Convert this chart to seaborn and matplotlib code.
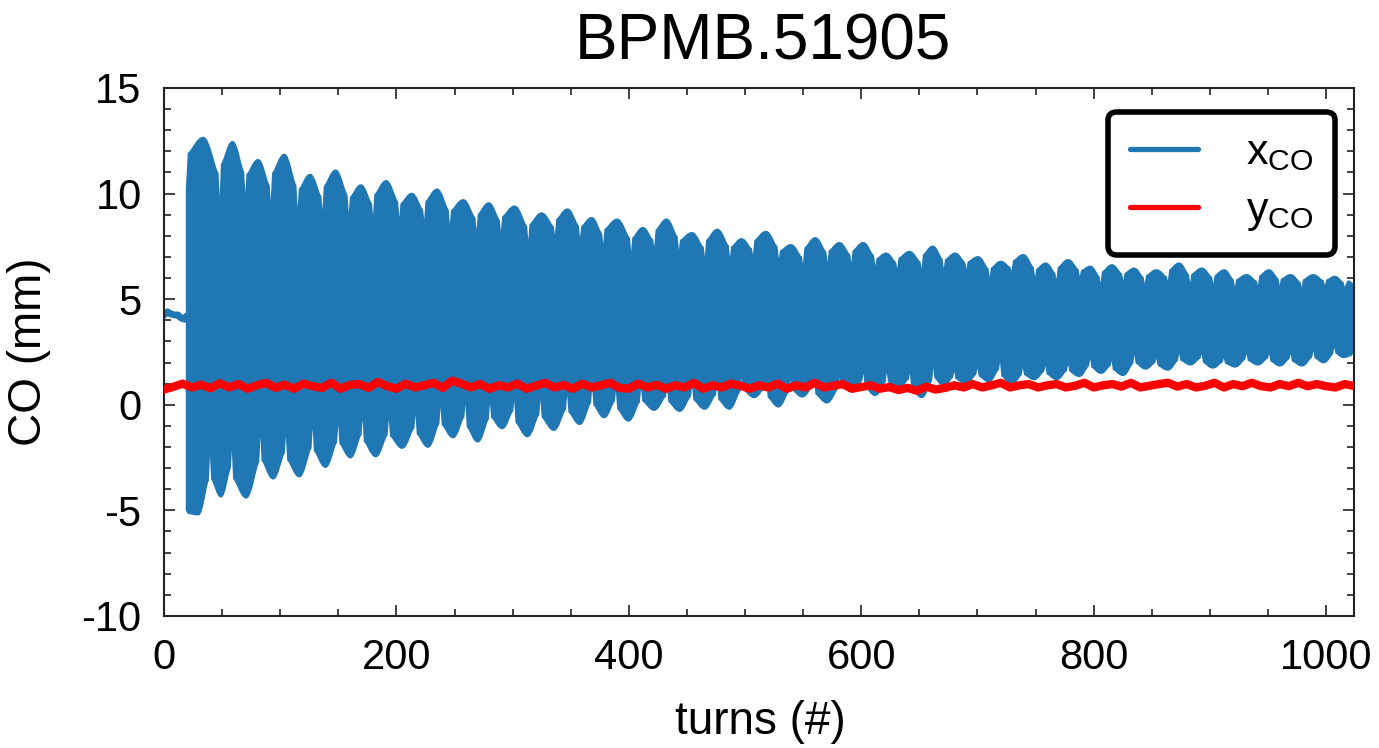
import numpy as np
import matplotlib
matplotlib.use("Agg")
import matplotlib.pyplot as plt
import seaborn as sns
from matplotlib.path import Path
from matplotlib.patches import PathPatch
from matplotlib.lines import Line2D
from matplotlib.ticker import MultipleLocator

# ---------------- data ----------------
title = "BPMB.51905"
x_label = "turns (#)"
y_label = "CO (mm)"
series_labels = [r"$\mathregular{x_{CO}}$", r"$\mathregular{y_{CO}}$"]
x_ticks = [0, 200, 400, 600, 800, 1000]
y_ticks = [-10, -5, 0, 5, 10, 15]

# x_CO before the kick (turn, mm)
pre_turn = [0, 3, 6, 9, 12, 15, 18, 19.5]
pre_x = [4.25, 4.4, 4.3, 4.25, 4.25, 4.1, 4.05, 4.2]

# x_CO upper envelope: narrow dips (turn, mm) and hump maxima between them
upper_dip_turn = [19.5, 48, 70, 92, 115, 136.5, 159, 180, 202.5, 224, 246, 269, 290,
                  313.5, 336.5, 358, 378, 402, 422, 443, 465.5, 487, 507, 529, 550,
                  571, 591.5, 612, 631, 652, 671, 690.5, 710.5, 729.5, 749.5, 768, 788,
                  806, 825.5, 844, 864, 883, 903, 921.5, 941.5, 960, 979, 999, 1016, 1023]
upper_dip_x = [10.2, 8.9, 9.3, 8.9, 8.6, 8.6, 8.5, 8.45, 8.4, 8.3, 8.05, 7.8, 7.75,
               7.3, 7.65, 7.5, 7.2, 6.8, 7.1, 6.95, 6.6, 6.6, 6.8, 6.6, 6.3,
               6.4, 6.4, 6.3, 6.2, 6.15, 6.15, 6.2, 5.75, 6.15, 5.75, 5.65, 5.85,
               5.5, 5.65, 5.5, 5.65, 5.5, 5.5, 5.35, 5.45, 5.45, 5.35, 5.5, 5.45, 5.7]
upper_peak_x = [12.65, 12.45, 11.6, 11.85, 10.9, 11.1, 10.4, 10.6, 10.0, 10.2,
                9.7, 9.55, 9.4, 9.07, 9.26, 8.85, 8.78, 8.38, 8.78, 8.14,
                8.3, 7.85, 8.2, 7.57, 7.9, 7.67, 7.67, 7.17, 7.25, 7.5,
                7.17, 7.0, 6.78, 7.1, 6.7, 6.86, 6.55, 6.62, 6.46, 6.38,
                6.7, 6.46, 6.38, 6.15, 6.38, 6.15, 6.15, 6.07, 5.85]

# x_CO lower envelope: narrow spikes (turn, mm) and trough minima between them
lower_spike_turn = [19.5, 39.6, 58.5, 83, 105, 128, 150, 171, 193.5, 216.5,
                    238, 259.5, 280.5, 301.5, 324, 347, 368.5, 389, 410.5, 433,
                    454.5, 476, 497, 518.5, 539, 559.5, 581.5, 602, 622, 642,
                    662, 680, 700, 719.5, 739, 758.5, 778, 797, 815.5, 835,
                    854, 873.5, 893, 912, 931.5, 951, 969.5, 989, 1007, 1023]
lower_spike_x = [-5.0, -1.6, -1.4, -0.65, -0.8, -0.4, -0.33, -0.09, -0.16, 0.07,
                 0.45, 0.6, 0.6, 0.7, 0.8, 1.0, 1.33, 1.1, 1.2, 1.2,
                 1.25, 1.3, 1.65, 1.4, 1.5, 1.45, 1.6, 1.8, 1.85, 1.8,
                 2.1, 1.8, 1.97, 2.36, 1.97, 2.05, 2.13, 2.44, 2.28, 2.63,
                 2.36, 2.63, 2.6, 2.36, 2.6, 2.6, 2.6, 2.75, 2.9, 2.45]
lower_trough_x = [-5.2, -4.35, -4.4, -3.5, -3.4, -2.95, -2.5, -2.45, -2.05, -2.0,
                  -1.55, -1.75, -1.12, -1.5, -1.2, -0.92, -0.6, -0.76, -0.25, -0.3,
                  -0.2, -0.2, 0.35, -0.09, 0.38, 0.1, 0.62, 0.45, 0.75, 0.35,
                  0.9, 1.0, 1.1, 0.95, 1.2, 1.2, 1.35, 1.5, 1.4, 1.7,
                  1.65, 1.9, 1.75, 1.8, 1.9, 1.85, 1.85, 2.0, 2.25]

# y_CO (sampled every 8 turns)
y_turn = list(range(0, 1024, 8)) + [1023]
y_co = [0.72, 0.85, 1.0, 0.82, 0.95, 0.78, 1.02, 0.82, 0.98, 0.76, 0.92, 1.04, 0.8, 0.95, 0.76, 1.0,
        0.88, 0.8, 1.04, 0.76, 0.94, 0.98, 0.8, 1.08, 0.88, 0.76, 1.0, 0.82, 0.92, 1.04, 0.8, 1.14,
        1.0, 0.82, 0.98, 0.76, 0.92, 0.82, 1.0, 0.76, 0.9, 1.04, 0.82, 0.94, 0.76, 1.0, 0.82, 0.92,
        1.04, 0.8, 0.76, 1.0, 0.82, 0.94, 0.76, 0.92, 0.82, 1.04, 0.76, 0.92, 0.82, 1.0, 0.9, 0.76,
        0.92, 0.82, 1.0, 0.76, 0.92, 0.82, 1.04, 0.82, 0.9, 0.98, 0.76, 0.84, 0.92, 0.76, 0.84, 0.7,
        0.8, 0.66, 0.86, 0.72, 0.8, 0.92, 0.82, 0.98, 0.82, 0.92, 1.04, 0.82, 0.92, 0.98, 0.82, 0.92,
        0.98, 0.82, 0.9, 1.04, 0.82, 0.92, 0.98, 0.86, 1.04, 0.82, 0.9, 0.98, 1.04, 0.86, 0.98, 0.82,
        0.9, 1.04, 0.82, 0.98, 0.88, 1.04, 0.88, 0.82, 0.98, 0.88, 1.04, 0.88, 0.98, 0.88, 0.82, 0.98,
        0.9]

BLUE = "#1f77b4"
RED = "#ff0000"

# ---------------- style ----------------
sns.set_theme(style="ticks")
plt.rcParams["font.family"] = ["Liberation Sans", "DejaVu Sans"]
plt.rcParams["mathtext.fontset"] = "custom"
plt.rcParams["mathtext.rm"] = "Liberation Sans"
plt.rcParams["mathtext.it"] = "Liberation Sans"
plt.rcParams["axes.unicode_minus"] = False
plt.rcParams["text.color"] = "black"

fig = plt.figure(figsize=(13.79, 7.48), dpi=100)
ax = fig.add_axes([0.1189, 0.1765, 0.8630, 0.7059])


def envelope(knot_t, knot_v, extreme, d=1.7):
    """Segments of a beat envelope: narrow slit at each knot, shoulders beside it,
    and a rounded crest at the read extreme in the middle of each hump."""
    start = (knot_t[0], knot_v[0])
    segs = []  # (start, controls, end)
    cur = start
    for i, e in enumerate(extreme):
        t0, v0 = knot_t[i], knot_v[i]
        t1, v1 = knot_t[i + 1], knot_v[i + 1]
        w = t1 - t0
        tm = t0 + 0.5 * w
        s0 = v0 + 0.7 * (e - v0)
        s1 = v1 + 0.55 * (e - v1)
        a = (t0 + d, s0)
        segs.append((cur, [], a))
        pk = (tm, e)
        segs.append((a, [(t0 + d + 0.12 * w, s0 + 0.15 * (e - s0)), (tm - 0.18 * w, e)], pk))
        b = (t1 - d, s1)
        segs.append((pk, [(tm + 0.18 * w, e), (t1 - d - 0.12 * w, s1 + 0.15 * (e - s1))], b))
        end = (t1, v1)
        segs.append((b, [], end))
        cur = end
    return start, segs


def emit(segs, reverse=False):
    v, c = [], []
    seq = reversed(segs) if reverse else segs
    for s, ctrl, e in seq:
        if reverse:
            pts = ctrl[::-1] + [s]
        else:
            pts = ctrl + [e]
        v += pts
        c += [Path.LINETO] if not ctrl else [Path.CURVE4] * 3
    return v, c


u_start, u_segs = envelope(upper_dip_turn, upper_dip_x, upper_peak_x)
l_start, l_segs = envelope(lower_spike_turn, lower_spike_x, lower_trough_x)
uv, uc = emit(u_segs)
lv, lc = emit(l_segs, reverse=True)
l_end = l_segs[-1][2]
verts = [u_start] + uv + [l_end] + lv + [u_start]
codes = [Path.MOVETO] + uc + [Path.LINETO] + lc + [Path.CLOSEPOLY]
band = PathPatch(Path(verts, codes), facecolor=BLUE, edgecolor=BLUE,
                 linewidth=1.2, joinstyle="round", zorder=2)
ax.add_patch(band)

sns.lineplot(x=pre_turn, y=pre_x, ax=ax, color=BLUE, linewidth=5,
             estimator=None, sort=False, zorder=2)
sns.lineplot(x=y_turn, y=y_co, ax=ax, color=RED, linewidth=6,
             estimator=None, sort=False, zorder=3)

ax.set_xlim(0, 1024)
ax.set_ylim(-10, 15)
ax.set_xticks(x_ticks)
ax.set_yticks(y_ticks)
ax.xaxis.set_minor_locator(MultipleLocator(50))
ax.yaxis.set_minor_locator(MultipleLocator(1))
ax.tick_params(which="both", direction="in", top=True, right=True,
               width=1.2, color="#222222", labelsize=30, labelcolor="black")
ax.tick_params(axis="x", which="major", pad=16)
ax.tick_params(axis="y", which="major", pad=16)
ax.tick_params(which="major", length=8)
ax.tick_params(which="minor", length=5)
for s in ax.spines.values():
    s.set_linewidth(1.5)
    s.set_color("#222222")
ax.set_xlabel("")
ax.set_ylabel("")

fig.text(763 / 1379, 1 - 43 / 748, title, ha="center", va="center",
         fontsize=46, color="black")
fig.text(760 / 1379, 1 - 722 / 748, x_label, ha="center", va="center",
         fontsize=33, color="black")
fig.text(29 / 1379, 1 - 352 / 748, y_label, ha="center", va="center",
         rotation=90, fontsize=33, color="black")

handles = [Line2D([], [], color=BLUE, lw=3.8, solid_capstyle="round"),
           Line2D([], [], color=RED, lw=3.8, solid_capstyle="round")]
leg = ax.legend(handles, series_labels, loc="upper right",
                bbox_to_anchor=(0.984, 0.955), frameon=True, fancybox=True,
                fontsize=31, handlelength=1.6, handletextpad=1.1, borderpad=0.5,
                labelspacing=0.42, borderaxespad=0)
for t in leg.get_texts():
    t.set_color("black")
fr = leg.get_frame()
fr.set_linewidth(4)
fr.set_edgecolor("black")
fr.set_facecolor("white")
fr.set_alpha(1)
leg.set_zorder(5)

fig.savefig("out.png", dpi=100)
